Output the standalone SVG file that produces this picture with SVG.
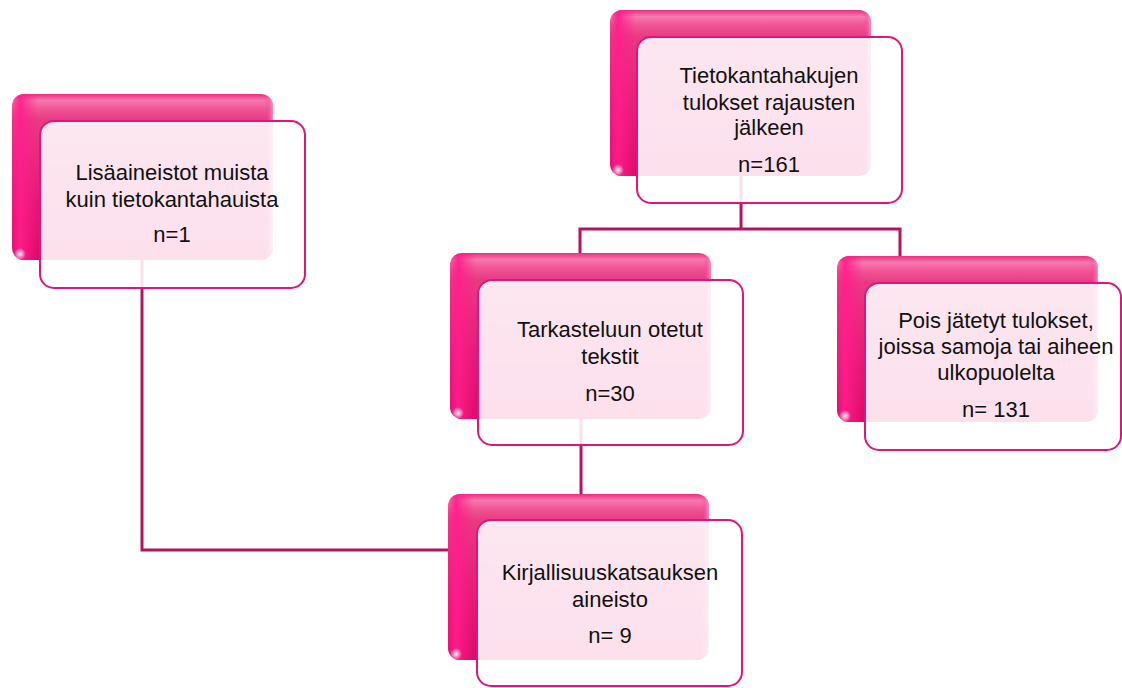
<svg xmlns="http://www.w3.org/2000/svg" width="1122" height="688" viewBox="0 0 1122 688">
<defs>
<linearGradient id="gv" x1="0" y1="0" x2="0" y2="1">
<stop offset="0" stop-color="#E8307F"/>
<stop offset="0.04" stop-color="#F778B0"/>
<stop offset="0.09" stop-color="#F05595"/>
<stop offset="0.16" stop-color="#E83A82"/>
<stop offset="0.6" stop-color="#E51B76"/>
<stop offset="1" stop-color="#E0086C"/>
</linearGradient>
<linearGradient id="gh" x1="0" y1="0" x2="1" y2="0">
<stop offset="0" stop-color="#FF1E8C" stop-opacity="0.2"/>
<stop offset="0.03" stop-color="#FF1E8C" stop-opacity="0.9"/>
<stop offset="0.1" stop-color="#FF1E8C" stop-opacity="0"/>
<stop offset="0.97" stop-color="#FF1E8C" stop-opacity="0"/>
<stop offset="1" stop-color="#F4A0C8" stop-opacity="0.8"/>
</linearGradient>
<radialGradient id="glow">
<stop offset="0" stop-color="#FFFFFF" stop-opacity="0.95"/>
<stop offset="1" stop-color="#FFFFFF" stop-opacity="0"/>
</radialGradient>
<g id="back">
<rect x="0" y="0" width="261" height="166" rx="12" fill="url(#gv)"/>
<rect x="0" y="0" width="261" height="166" rx="12" fill="url(#gh)"/>
<circle cx="8" cy="160" r="6" fill="url(#glow)"/>
</g>
</defs>
<style>
.conn{fill:none;stroke:#B8125E;stroke-width:3}
.front{fill:#FFFFFF;fill-opacity:0.88;stroke:#E0157A;stroke-width:2}
.t{font-family:"Liberation Sans",Arial,sans-serif;font-size:22px;fill:#111111;text-anchor:middle}
</style>
<g id="connectors">
<polyline class="conn" points="741,120 741,229"/>
<polyline class="conn" points="580,253 580,229 900,229 900,256"/>
<polyline class="conn" points="581,360 581,494"/>
<polyline class="conn" points="142,200 142,550 450,550"/>
</g>
<g id="n1">
<use href="#back" x="12" y="94"/>
<rect class="front" x="40" y="121" width="265" height="167" rx="14"/>
<text class="t" x="172" y="180">Lisäaineistot muista</text>
<text class="t" x="172" y="207">kuin tietokantahauista</text>
<text class="t" x="172" y="242">n=1</text>
</g>
<g id="n2">
<use href="#back" x="610" y="10"/>
<rect class="front" x="637" y="37" width="265" height="166" rx="14"/>
<text class="t" x="769" y="83">Tietokantahakujen</text>
<text class="t" x="769" y="110">tulokset rajausten</text>
<text class="t" x="769" y="135">jälkeen</text>
<text class="t" x="769" y="172">n=161</text>
</g>
<g id="n3">
<use href="#back" x="450" y="253"/>
<rect class="front" x="478" y="280" width="265" height="165" rx="14"/>
<text class="t" x="610" y="337">Tarkasteluun otetut</text>
<text class="t" x="610" y="364">tekstit</text>
<text class="t" x="610" y="401">n=30</text>
</g>
<g id="n4">
<use href="#back" x="837" y="256"/>
<rect class="front" x="865" y="283" width="256" height="167" rx="14"/>
<text class="t" x="996" y="328">Pois jätetyt tulokset,</text>
<text class="t" x="996" y="354">joissa samoja tai aiheen</text>
<text class="t" x="996" y="380">ulkopuolelta</text>
<text class="t" x="996" y="417">n= 131</text>
</g>
<g id="n5">
<use href="#back" x="448" y="494"/>
<rect class="front" x="477" y="520" width="265" height="166" rx="14"/>
<text class="t" x="610" y="580">Kirjallisuuskatsauksen</text>
<text class="t" x="610" y="607">aineisto</text>
<text class="t" x="610" y="643">n= 9</text>
</g>
</svg>
